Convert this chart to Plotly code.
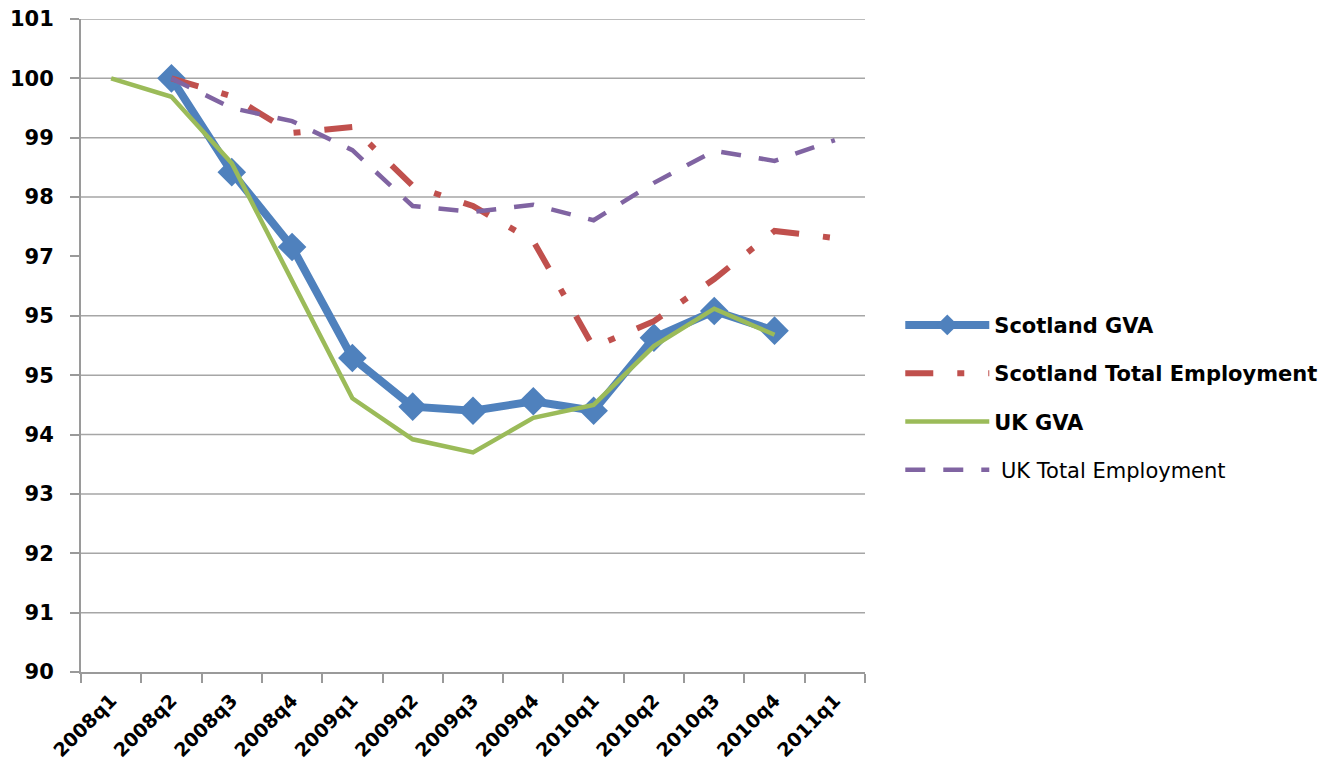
import plotly.graph_objects as go

categories = ["2008q1", "2008q2", "2008q3", "2008q4", "2009q1", "2009q2", "2009q3",
              "2009q4", "2010q1", "2010q2", "2010q3", "2010q4", "2011q1"]

scotland_gva = [None, 100.0, 98.42, 97.16, 95.29, 94.47, 94.40, 94.56, 94.40, 95.63, 96.08, 95.75, None]
scotland_emp = [None, 100.0, 99.70, 99.08, 99.18, 98.19, 97.85, 97.26, 95.47, 95.91, 96.62, 97.43, 97.31]
uk_gva = [100.0, 99.69, 98.57, 96.60, 94.61, 93.92, 93.70, 94.28, 94.50, 95.49, 96.12, 95.68, None]
uk_emp = [None, 100.0, 99.50, 99.28, 98.79, 97.85, 97.75, 97.87, 97.61, 98.24, 98.78, 98.61, 98.96]

y_tickvals = [90, 91, 92, 93, 94, 95, 96, 97, 98, 99, 100, 101]
y_ticktext = ["90", "91", "92", "93", "94", "95", "95", "97", "98", "99", "100", "101"]
grid_levels = [91, 92, 93, 94, 95, 96, 98, 99, 100, 101]

BLUE = "#4F81BD"
RED = "#C0504D"
GREEN = "#9BBB59"
PURPLE = "#8064A2"
GRID = "#a6a6a6"
AXIS = "#9a9a9a"

fig = go.Figure()

fig.add_trace(go.Scatter(
    x=categories, y=scotland_gva, name="<b>Scotland GVA</b>", legendgroup="a",
    mode="lines+markers",
    line=dict(color=BLUE, width=8),
    marker=dict(symbol="diamond", size=22, color=BLUE),
))
fig.add_trace(go.Scatter(
    x=categories, y=scotland_emp, name="<b>Scotland Total Employment</b>", legendgroup="b",
    mode="lines",
    line=dict(color=RED, width=6, dash="28px,24px,7px,24px"),
))
fig.add_trace(go.Scatter(
    x=categories, y=uk_gva, name="<b>UK GVA</b>", legendgroup="c",
    mode="lines",
    line=dict(color=GREEN, width=4.5),
))
fig.add_trace(go.Scatter(
    x=categories, y=uk_emp, name=" UK Total Employment", legendgroup="d",
    mode="lines",
    line=dict(color=PURPLE, width=4.5, dash="20px,18px"),
))

shapes = []
for lv in grid_levels:
    shapes.append(dict(type="line", xref="paper", yref="y", x0=0, x1=1, y0=lv, y1=lv,
                       line=dict(color=GRID, width=1.5), layer="below"))

fig.update_layout(
    width=1337, height=778,
    margin=dict(l=81, r=472, t=19, b=106),
    paper_bgcolor="white", plot_bgcolor="white",
    shapes=shapes,
    showlegend=True,
    legend=dict(
        x=1.045, xanchor="left", y=0.42, yanchor="middle",
        font=dict(family="DejaVu Sans", size=21, color="black"),
        tracegroupgap=18, itemwidth=84,
        bgcolor="rgba(0,0,0,0)",
    ),
    xaxis=dict(
        type="category", categoryorder="array", categoryarray=categories,
        range=[-0.5, 12.5], tickson="boundaries", automargin=False,
        ticks="outside", ticklen=9, tickcolor=AXIS, tickwidth=2,
        showline=True, linecolor=AXIS, linewidth=2,
        showgrid=False, tickangle=-45, ticklabelstandoff=8,
        tickfont=dict(family="DejaVu Sans", size=19, color="black", weight="bold"),
    ),
    yaxis=dict(
        range=[90, 101], tickvals=y_tickvals, ticktext=y_ticktext, automargin=False,
        ticks="outside", ticklen=9, tickcolor=AXIS, tickwidth=2,
        showline=True, linecolor=AXIS, linewidth=2,
        showgrid=False, zeroline=False,
        ticklabelstandoff=12,
        tickfont=dict(family="DejaVu Sans", size=21, color="black", weight="bold"),
    ),
)

fig.write_html("out.html")
